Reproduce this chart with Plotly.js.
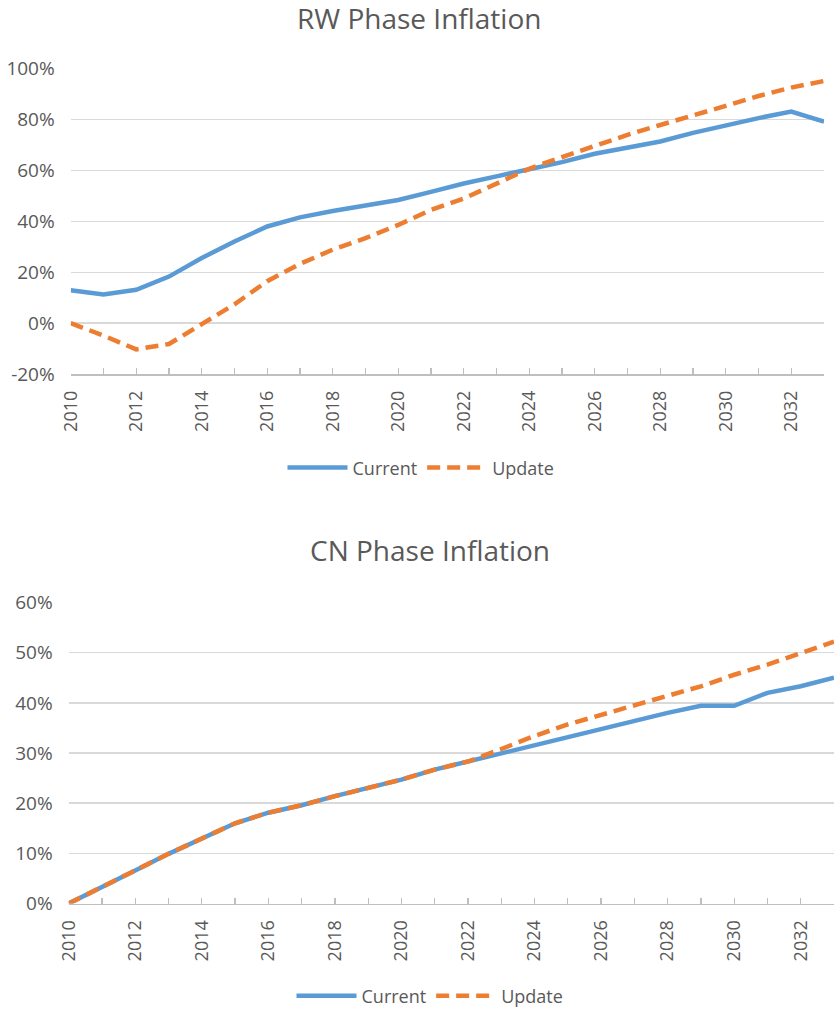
<!DOCTYPE html>
<html>
<head>
<meta charset="utf-8">
<script src="https://cdn.plot.ly/plotly-3.0.1.min.js"></script>
<style>html,body{margin:0;padding:0;background:#fff;} #chart{width:834px;height:1015px;}</style>
</head>
<body>
<div id="chart"></div>
<script>
var years = [2010,2011,2012,2013,2014,2015,2016,2017,2018,2019,2020,2021,2022,2023,2024,2025,2026,2027,2028,2029,2030,2031,2032,2033];
var rwCurrent = [12.9,11.3,13.1,18.3,25.6,32.1,38.0,41.6,44.1,46.2,48.4,51.6,54.9,57.7,60.5,63.3,66.6,68.8,71.4,74.8,77.9,80.6,83.2,79.2];
var rwUpdate  = [0.0,-4.9,-10.3,-8.2,-0.4,7.4,16.5,23.3,28.9,33.4,38.6,44.5,49.0,54.9,60.7,65.3,69.8,74.0,77.9,81.5,85.4,89.3,92.6,95.2];
var cnCurrent = [0.0,3.2,6.6,9.9,13.0,16.0,18.1,19.6,21.4,23.1,24.7,26.7,28.3,30.1,31.6,33.3,34.9,36.4,38.0,39.4,39.4,42.0,43.3,45.0];
var cnUpdate  = [0.0,3.2,6.6,9.9,13.0,16.0,18.1,19.6,21.4,23.1,24.7,26.7,28.3,30.8,33.4,35.7,37.6,39.4,41.3,43.3,45.6,47.6,49.9,52.2];
var seriesNames = ['Current','Update'];
var titles = ['RW Phase Inflation','CN Phase Inflation'];
var rwTickVals = [-20,0,20,40,60,80,100];
var rwTickText = ['-20%','0%','20%','40%','60%','80%','100%'];
var cnTickVals = [0,10,20,30,40,50,60];
var cnTickText = ['0%','10%','20%','30%','40%','50%','60%'];

var W = 834, H = 1015;
var blue = '#5b9bd5', orange = '#ed7d31', txt = '#595959', grid = '#d9d9d9', axisc = '#bfbfbf';
var FONT = 'Open Sans, sans-serif';

function px(x){return x/W;}
function py(y){return 1 - y/H;}

var traces = [
  {x: years, y: rwCurrent, name: seriesNames[0], type:'scatter', mode:'lines', xaxis:'x', yaxis:'y', legend:'legend',
   line:{color:blue, width:4.5}},
  {x: years, y: rwUpdate, name: seriesNames[1], type:'scatter', mode:'lines', xaxis:'x', yaxis:'y', legend:'legend',
   line:{color:orange, width:4.5, dash:'13px,7px'}},
  {x: years, y: cnCurrent, name: seriesNames[0], type:'scatter', mode:'lines', xaxis:'x2', yaxis:'y2', legend:'legend2',
   line:{color:blue, width:4.5}},
  {x: years, y: cnUpdate, name: seriesNames[1], type:'scatter', mode:'lines', xaxis:'x2', yaxis:'y2', legend:'legend2',
   line:{color:orange, width:4.5, dash:'13px,7px'}}
];

function xax(domain, anchor){
  return {domain: domain, anchor: anchor, range:[years[0], years[years.length-1]],
    tickmode:'linear', tick0: years[0], dtick:2, tickangle:-90,
    ticks:'inside', ticklen:6, tickcolor:axisc, tickwidth:1.3,
    minor:{dtick:1, ticks:'inside', ticklen:6, tickcolor:axisc, tickwidth:1.3, showgrid:false},
    showline:true, linecolor:axisc, linewidth:1.5, showgrid:false, zeroline:false,
    tickfont:{family:FONT, size:18, color:txt}, ticklabelstandoff:8, fixedrange:true};
}
function yax(domain, anchor, range, vals, text){
  return {domain: domain, anchor: anchor, range: range, tickmode:'array', tickvals: vals, ticktext: text,
    showgrid:true, gridcolor:grid, gridwidth:1.5, zeroline:false, showline:false,
    ticks:'', tickfont:{family:FONT, size:19, color:txt}, ticklabelstandoff:15, fixedrange:true};
}

var layout = {
  width: W, height: H,
  margin:{l:0, r:0, t:0, b:0},
  paper_bgcolor:'#ffffff', plot_bgcolor:'#ffffff',
  font:{family:FONT, color:txt},
  xaxis: xax([px(70.7), px(824)], 'y'),
  yaxis: yax([py(377), py(69.3)], 'x', [-20, 100], rwTickVals, rwTickText),
  xaxis2: xax([px(68.7), 1], 'y2'),
  yaxis2: yax([py(910.7), py(607.3)], 'x2', [0, 60], cnTickVals, cnTickText),
  legend:{orientation:'h', x: px(421), xanchor:'center', y: py(471.5), yanchor:'middle',
    font:{family:FONT, size:18, color:txt}, bgcolor:'rgba(0,0,0,0)', itemwidth:60},
  legend2:{orientation:'h', x: px(430), xanchor:'center', y: py(1004), yanchor:'middle',
    font:{family:FONT, size:18, color:txt}, bgcolor:'rgba(0,0,0,0)', itemwidth:60},
  annotations:[
    {text: titles[0], xref:'paper', yref:'paper', x: px(419), y: py(18), xanchor:'center', yanchor:'middle',
     showarrow:false, font:{family:FONT, size:28, color:txt}},
    {text: titles[1], xref:'paper', yref:'paper', x: px(430), y: py(554), xanchor:'center', yanchor:'middle',
     showarrow:false, font:{family:FONT, size:28, color:txt}}
  ],
  showlegend:true
};

Plotly.newPlot('chart', traces, layout, {displayModeBar:false, staticPlot:true});
</script>
</body>
</html>
